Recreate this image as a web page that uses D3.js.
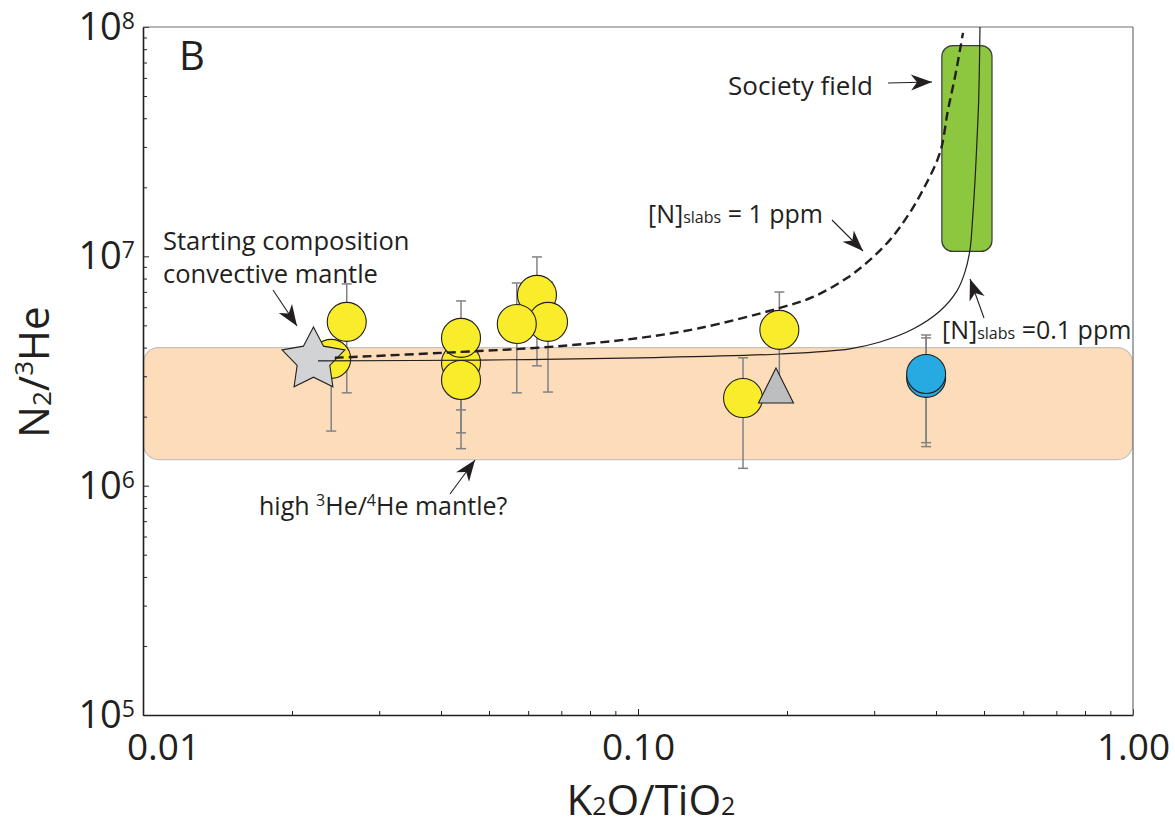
<!DOCTYPE html>
<html><head><meta charset="utf-8">
<script src="https://cdn.jsdelivr.net/npm/d3@7"></script>
<style>
body{margin:0;background:#fff}
svg{display:block}
text{font-family:"Open Sans",sans-serif;fill:#231f20}
</style>
</head><body>
<svg id="c" width="1175" height="830"></svg>
<script>
// ---------- data ----------
const xDomain = [0.01, 1];
const yDomain = [1e5, 1e8];
const xTickValues = [0.01, 0.1, 1];
const xTickLabels = ["0.01", "0.10", "1.00"];
const yTickValues = [1e5, 1e6, 1e7, 1e8];
const yTickExponents = ["5", "6", "7", "8"];

// yellow circles (draw order)
const yellowX  = [0.0240, 0.0258, 0.0439, 0.0439, 0.0439, 0.0625, 0.0658, 0.0569, 0.163, 0.193];
const yellowY  = [3.57e6, 5.18e6, 3.43e6, 4.41e6, 2.89e6, 6.79e6, 5.18e6, 5.07e6, 2.41e6, 4.78e6];
const yellowLo = [1.73e6, 2.54e6, 1.70e6, 2.14e6, 1.45e6, 3.33e6, 2.56e6, 2.54e6, 1.19e6, 2.70e6];
const yellowHi = [3.90e6, 7.58e6, 4.78e6, 6.39e6, 4.10e6, 9.94e6, 7.73e6, 7.65e6, 3.61e6, 6.99e6];

// blue circles
const blueX  = [0.382, 0.382];
const blueY  = [2.95e6, 3.07e6];
const blueLo = [1.48e6, 1.54e6];
const blueHi = [4.41e6, 4.54e6];

// grey triangle
const triX = [0.19];
const triY = [2.58e6];

// starting composition (star)
const starX = [0.0221];
const starY = [3.53e6];

// high 3He/4He mantle band
const bandX = [0.01, 1];
const bandY = [1.3e6, 4.0e6];

// Society field box
const societyX = [0.411, 0.519];
const societyY = [1.05e7, 8.3e7];

// mixing curve [N]slabs = 0.1 ppm (solid)
const solidX = [0.02257, 0.048, 0.1009, 0.1936, 0.268, 0.3083, 0.3594, 0.4074, 0.441, 0.4577, 0.4685, 0.474, 0.4796, 0.484, 0.4878, 0.4908];
const solidY = [3.50e6, 3.53e6, 3.61e6, 3.75e6, 3.95e6, 4.23e6, 4.82e6, 5.78e6, 7.07e6, 8.55e6, 1.07e7, 1.44e7, 2.15e7, 3.22e7, 4.81e7, 1.0e8];

// mixing curve [N]slabs = 1 ppm (dashed)
const dashX = [0.0244, 0.0439, 0.0664, 0.1009, 0.1335, 0.1936, 0.2257, 0.2644, 0.2942, 0.3229, 0.3495, 0.3765, 0.4074, 0.4229, 0.4369, 0.4472, 0.4535];
const dashY = [3.61e6, 3.83e6, 4.03e6, 4.41e6, 4.87e6, 5.96e6, 6.65e6, 8.05e6, 9.65e6, 1.18e7, 1.485e7, 1.95e7, 2.83e7, 4.35e7, 6.06e7, 7.95e7, 9.43e7];

// ---------- layout ----------
const M = {left: 143, right: 1133, top: 27, bottom: 715};
const ink = "#231f20";
const svg = d3.select("#c");
const x = d3.scaleLog().domain(xDomain).range([M.left, M.right]);
const y = d3.scaleLog().domain(yDomain).range([M.bottom, M.top]);

const defs = svg.append("defs");
defs.append("marker").attr("id", "ah")
  .attr("viewBox", "-22 -9 24 18").attr("refX", 0).attr("refY", 0)
  .attr("markerWidth", 24).attr("markerHeight", 18)
  .attr("markerUnits", "userSpaceOnUse").attr("orient", "auto")
  .append("path").attr("d", "M0,0 L-21,-8 L-15,0 L-21,8 Z").attr("fill", ink);

// band
svg.append("rect")
  .attr("x", x(bandX[0]) + 0.5).attr("y", y(bandY[1]))
  .attr("width", x(bandX[1]) - x(bandX[0]) - 1).attr("height", y(bandY[0]) - y(bandY[1]))
  .attr("rx", 15).attr("fill", "#fcdcb9").attr("stroke", "#c8c2bc").attr("stroke-width", 1.2);

// axes
const minorX = x.ticks().filter(v => !xTickValues.some(t => Math.abs(t - v) < 1e-9));
const minorY = y.ticks().filter(v => !yTickValues.some(t => Math.abs(t - v) / t < 1e-9));

const gx = svg.append("g").attr("transform", `translate(0,${M.bottom})`);
gx.call(d3.axisBottom(x).tickValues(xTickValues).tickSizeInner(-6).tickSizeOuter(0)
  .tickFormat((d, i) => xTickLabels[i]));
gx.append("g").call(d3.axisBottom(x).tickValues(minorX).tickSizeInner(-4).tickSizeOuter(0).tickFormat(""))
  .select(".domain").remove();
gx.selectAll("path.domain").attr("stroke", ink).attr("stroke-width", 1.6);
gx.selectAll(".tick line").attr("stroke", ink).attr("stroke-width", 1);
gx.selectAll(".tick text").attr("y", 45).attr("dy", 0)
  .attr("font-size", 37).attr("font-family", "Open Sans").attr("fill", ink)
  .attr("dx", (d, i) => i === 0 ? 20 : 0);

const gy = svg.append("g").attr("transform", `translate(${M.left},0)`);
gy.call(d3.axisLeft(y).tickValues(yTickValues).tickSizeInner(-6).tickSizeOuter(0).tickFormat(""));
gy.append("g").call(d3.axisLeft(y).tickValues(minorY).tickSizeInner(-4).tickSizeOuter(0).tickFormat(""))
  .select(".domain").remove();
gy.selectAll("path.domain").attr("stroke", ink).attr("stroke-width", 1.6);
gy.selectAll(".tick line").attr("stroke", ink).attr("stroke-width", 1);
yTickValues.forEach((v, i) => {
  const t = svg.append("text").attr("x", M.left - 8).attr("y", y(v) + 13)
    .attr("text-anchor", "end").attr("font-size", 38);
  t.append("tspan").text("10");
  t.append("tspan").attr("font-size", 23).attr("dy", -11).text(yTickExponents[i]);
});

// top & right frame
svg.append("line").attr("x1", M.left).attr("x2", M.right).attr("y1", M.top).attr("y2", M.top)
  .attr("stroke", "#6d6e71").attr("stroke-width", 1.2);
svg.append("line").attr("x1", M.right).attr("x2", M.right).attr("y1", M.top).attr("y2", M.bottom)
  .attr("stroke", "#6d6e71").attr("stroke-width", 1.2);

// Society field
svg.append("rect")
  .attr("x", x(societyX[0])).attr("y", y(societyY[1]))
  .attr("width", x(societyX[1]) - x(societyX[0])).attr("height", y(societyY[0]) - y(societyY[1]))
  .attr("rx", 11).attr("fill", "#8dc63f").attr("stroke", "#3a3a3a").attr("stroke-width", 1.2);

// error bars
const errColor = "#808285";
function errBars(xs, ys, lo, hi) {
  const g = svg.append("g").attr("stroke", errColor).attr("stroke-width", 1.5);
  xs.forEach((xv, i) => {
    const px = x(xv);
    g.append("line").attr("x1", px).attr("x2", px).attr("y1", y(lo[i])).attr("y2", y(hi[i]));
    [lo[i], hi[i]].forEach(v => g.append("line").attr("x1", px - 5).attr("x2", px + 5)
      .attr("y1", y(v)).attr("y2", y(v)));
  });
}
errBars(yellowX, yellowY, yellowLo, yellowHi);
errBars(blueX, blueY, blueLo, blueHi);

// circles
const R = 19.5;
yellowX.forEach((xv, i) => svg.append("circle").attr("cx", x(xv)).attr("cy", y(yellowY[i])).attr("r", R)
  .attr("fill", "#f9ec2a").attr("stroke", ink).attr("stroke-width", 1.1));
blueX.forEach((xv, i) => svg.append("circle").attr("cx", x(xv)).attr("cy", y(blueY[i])).attr("r", R)
  .attr("fill", "#27aae1").attr("stroke", ink).attr("stroke-width", 1.1));

// triangle
const triType = {draw(ctx, size) {
  const s = Math.sqrt(size); const h = s;
  ctx.moveTo(0, -h * 2 / 3); ctx.lineTo(s / 2, h / 3); ctx.lineTo(-s / 2, h / 3); ctx.closePath();
}};
triX.forEach((xv, i) => svg.append("path")
  .attr("transform", `translate(${x(xv)},${y(triY[i])})`)
  .attr("d", d3.symbol().type(triType).size(35 * 35)())
  .attr("fill", "#bcbec0").attr("stroke", ink).attr("stroke-width", 1.1));

// star
const starType = {draw(ctx, size) {
  const Ro = Math.sqrt(size), Ri = Ro * 0.52;
  for (let k = 0; k < 10; k++) {
    const a = -Math.PI / 2 + k * Math.PI / 5, rr = k % 2 ? Ri : Ro;
    k ? ctx.lineTo(rr * Math.cos(a), rr * Math.sin(a)) : ctx.moveTo(rr * Math.cos(a), rr * Math.sin(a));
  }
  ctx.closePath();
}};
starX.forEach((xv, i) => svg.append("path")
  .attr("transform", `translate(${x(xv)},${y(starY[i])})`)
  .attr("d", d3.symbol().type(starType).size(33 * 33)())
  .attr("fill", "#d1d3d4").attr("stroke", ink).attr("stroke-width", 1.1));

// mixing curves
const line = d3.line().x(d => x(d[0])).y(d => y(d[1])).curve(d3.curveCatmullRom.alpha(0.5));
svg.append("path").attr("d", line(solidX.map((v, i) => [v, solidY[i]])))
  .attr("fill", "none").attr("stroke", ink).attr("stroke-width", 1.2);
svg.append("path").attr("d", line(dashX.map((v, i) => [v, dashY[i]])))
  .attr("fill", "none").attr("stroke", ink).attr("stroke-width", 2.4).attr("stroke-dasharray", "9,5");

// ---------- annotations ----------
function arrow(x1, y1, x2, y2) {
  svg.append("line").attr("x1", x1).attr("y1", y1).attr("x2", x2).attr("y2", y2)
    .attr("stroke", ink).attr("stroke-width", 1.1).attr("marker-end", "url(#ah)");
}
svg.append("text").attr("x", 179).attr("y", 70).attr("font-size", 40).text("B");

svg.append("text").attr("x", 728).attr("y", 95).attr("font-size", 26).text("Society field");
arrow(888, 83, 932, 82);

const t1 = svg.append("text").attr("x", 648).attr("y", 223).attr("font-size", 25);
t1.append("tspan").text("[N]");
t1.append("tspan").attr("font-size", 16).text("slabs");
t1.append("tspan").text(" = 1 ppm");
arrow(832, 220, 863, 251);

const t2 = svg.append("text").attr("x", 942).attr("y", 339).attr("font-size", 25);
t2.append("tspan").text("[N]");
t2.append("tspan").attr("font-size", 16).text("slabs");
t2.append("tspan").text(" =0.1 ppm");
arrow(984, 318, 970, 279);

svg.append("text").attr("x", 163).attr("y", 250).attr("font-size", 25.5).text("Starting composition");
svg.append("text").attr("x", 163).attr("y", 283).attr("font-size", 25.5).text("convective mantle");
arrow(273, 290, 297, 326);

const t3 = svg.append("text").attr("x", 259).attr("y", 515).attr("font-size", 25);
t3.append("tspan").text("high ");
t3.append("tspan").attr("font-size", 16).attr("dy", -9).text("3");
t3.append("tspan").attr("dy", 9).text("He/");
t3.append("tspan").attr("font-size", 16).attr("dy", -9).text("4");
t3.append("tspan").attr("dy", 9).text("He mantle?");
arrow(450, 494, 475, 460);

// axis titles
const xt = svg.append("text").attr("x", 651).attr("y", 815).attr("text-anchor", "middle").attr("font-size", 42);
xt.append("tspan").text("K");
xt.append("tspan").attr("font-size", 25).text("2");
xt.append("tspan").text("O/TiO");
xt.append("tspan").attr("font-size", 25).text("2");

const yt = svg.append("text").attr("transform", "translate(49,372) rotate(-90)")
  .attr("text-anchor", "middle").attr("font-size", 42);
yt.append("tspan").text("N");
yt.append("tspan").attr("font-size", 26).attr("dy", 2).text("2");
yt.append("tspan").attr("dy", -2).text("/");
yt.append("tspan").attr("font-size", 26).attr("dy", -16).text("3");
yt.append("tspan").attr("dy", 16).text("He");
</script>
</body></html>
